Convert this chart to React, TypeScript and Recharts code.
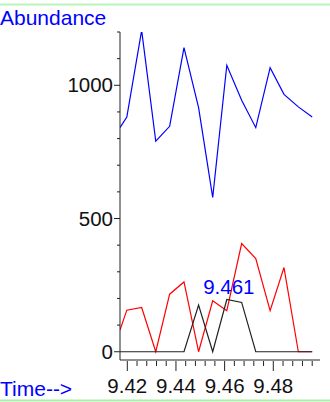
import { LineChart, Line, XAxis, YAxis, ReferenceDot } from 'recharts'

const FONT = '"Liberation Sans", Arial, sans-serif'

// retention time (min) of each scan
const times = [
  9.417, 9.4198, 9.4259, 9.4317, 9.4374, 9.4433, 9.4493, 9.4551, 9.4609, 9.467, 9.4728, 9.4787,
  9.4844, 9.4903, 9.496,
]
const ticAbundance = [841, 881, 1206, 790, 846, 1141, 916, 579, 1075, 944, 841, 1066, 966, 919, 881]
const ionRed = [81, 156, 166, 0, 216, 262, 0, 191, 154, 406, 350, 154, 316, 0, 0]
const ionBlack = [0, 0, 0, 0, 0, 0, 175, 0, 196, 185, 0, 0, 0, 0, 0]

const xTicks = [
  9.42, 9.424, 9.428, 9.432, 9.436, 9.44, 9.444, 9.448, 9.452, 9.456, 9.46, 9.464, 9.468, 9.472,
  9.476, 9.48, 9.484, 9.488, 9.492, 9.496,
]
const xLabels = [9.42, 9.44, 9.46, 9.48]
const yTicks = [0, 100, 200, 300, 400, 500, 600, 700, 800, 900, 1000, 1100, 1200]
const yLabels = [0, 500, 1000]

const peakTime = 9.4609
const peakLabel = '9.461'

const data = times.map((t, i) => ({
  t,
  tic: ticAbundance[i],
  red: ionRed[i],
  black: ionBlack[i],
}))

const isMajor = (list: number[], v: number) => list.some((m) => Math.abs(m - v) < 1e-6)

function XTick(props: any) {
  const { x, y, payload } = props
  const major = isMajor(xLabels, payload.value)
  return (
    <g>
      <line x1={x} x2={x} y1={y + 1} y2={y + (major ? 11 : 6)} stroke="#222" />
      {major && (
        <text x={x} y={y + 33} textAnchor="middle" fontSize={20.5} fill="#111" fontFamily={FONT}>
          {payload.value.toFixed(2)}
        </text>
      )}
    </g>
  )
}

function YTick(props: any) {
  const { x, y, payload } = props
  const major = isMajor(yLabels, payload.value)
  return (
    <g>
      <line x1={x - (major ? 6 : 3)} x2={x} y1={y} y2={y} stroke="#222" />
      {major && (
        <text x={x - 7} y={y + 7} textAnchor="end" fontSize={20.5} fill="#111" fontFamily={FONT}>
          {payload.value}
        </text>
      )}
    </g>
  )
}

export default function App() {
  return (
    <div style={{ position: 'absolute', left: 0, top: 0, width: 330, height: 402, background: '#fff' }}>
      <LineChart width={330} height={402} data={data} margin={{ top: 32, right: 10, bottom: 0, left: 0 }}>
        <XAxis
          dataKey="t"
          type="number"
          domain={[9.417, 9.4992]}
          allowDataOverflow
          ticks={xTicks}
          interval={0}
          tick={<XTick />}
          tickLine={false}
          tickSize={0}
          tickMargin={0}
          height={42}
          axisLine={{ stroke: '#222' }}
        />
        <YAxis
          type="number"
          domain={[-31, 1200]}
          allowDataOverflow
          ticks={yTicks}
          interval={0}
          tick={<YTick />}
          tickLine={false}
          tickSize={0}
          tickMargin={0}
          width={120}
          axisLine={{ stroke: '#222' }}
        />
        <Line type="linear" dataKey="tic" stroke="#0000ff" strokeWidth={1.2} dot={false} isAnimationActive={false} />
        <Line type="linear" dataKey="red" stroke="#ff0000" strokeWidth={1.2} dot={false} isAnimationActive={false} />
        <Line type="linear" dataKey="black" stroke="#222" strokeWidth={1.2} dot={false} isAnimationActive={false} />
        <ReferenceDot
          x={peakTime}
          y={217}
          r={1}
          fill="none"
          stroke="none"
          label={(p: any) => {
            const vb = p.viewBox || {}
            return (
              <text
                x={vb.x + (vb.width || 0) / 2 + 2}
                y={vb.y + (vb.height || 0) / 2}
                textAnchor="middle"
                fontSize={20.5}
                fill="#0000ff"
                fontFamily={FONT}
              >
                {peakLabel}
              </text>
            )
          }}
        />
      </LineChart>
      <svg width={330} height={402} style={{ position: 'absolute', left: 0, top: 0, pointerEvents: 'none' }}>
        <line x1={0} x2={330} y1={4.5} y2={4.5} stroke="#b8f5b8" strokeWidth={2} />
        <line x1={0} x2={330} y1={400.5} y2={400.5} stroke="#a8f0a8" strokeWidth={2} />
        <text x={0} y={25} fontSize={21} fill="#0000ff" fontFamily={FONT}>
          Abundance
        </text>
        <text x={0} y={396} fontSize={21} fill="#0000ff" fontFamily={FONT}>
          Time--&gt;
        </text>
      </svg>
    </div>
  )
}
